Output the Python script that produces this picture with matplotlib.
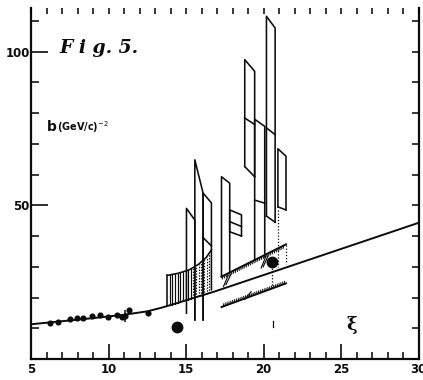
import numpy as np
import matplotlib
matplotlib.use('Agg')
import matplotlib.pyplot as plt
from matplotlib.ticker import MultipleLocator, FixedLocator

# ---------------- data ----------------
# fitted curve
curve_x = [5, 7, 9, 11, 12.5, 13.5, 14.5, 15.5, 16.75, 20, 25, 30]
curve_y = [11.3, 12.3, 13.3, 14.4, 15.5, 16.8, 18.3, 19.9, 21.8, 27.3, 35.8, 44.3]

# low-energy measurements
pts_x = [6.22, 6.76, 7.51, 7.94, 8.37, 8.91, 9.45, 9.98, 10.52, 10.84, 11.06, 11.33, 12.56]
pts_y = [11.8, 12.1, 12.9, 13.2, 13.4, 14.0, 14.3, 13.8, 14.3, 13.8, 14.0, 15.9, 15.1]
pts_err = [0.3, 0.3, 0.4, 0.4, 0.5, 0.6, 0.6, 0.6, 0.7, 0.8, 1.8, 0.8, 0.5]

# slanted boxes (parallelograms)
box_x0 = [15.03, 15.57, 16.10, 17.29, 17.82, 18.79, 19.43, 20.19, 20.93]
box_x1 = [15.57, 16.10, 16.64, 17.82, 18.58, 19.43, 20.08, 20.75, 21.45]
box_top0 = [49.0, 64.8, 54.0, 59.3, 48.5, 97.4, 78.0, 111.5, 68.4]
box_top1 = [45.2, 54.0, 50.8, 57.2, 46.9, 93.6, 75.7, 107.7, 66.0]
box_bot0 = [14.9, 12.7, 12.7, 26.8, 41.4, 62.6, 32.2, 46.5, 49.5]
box_bot1 = [12.7, 12.7, 22.5, 28.2, 40.0, 59.3, 33.3, 44.5, 48.5]
box_closed = [False, False, False, False, True, True, False, True, True]

# inner dividing lines (box index, left y, right y)
div_box = [2, 4, 5, 6, 7]
div_y0 = [39.5, 44.7, 78.4, 51.7, 75.2]
div_y1 = [36.8, 43.1, 76.3, 50.7, 73.0]

# hatched region (top boundary; bottom is the curve)
hatch_top_x = [13.8, 14.5, 15.2, 15.8, 16.3, 16.64]
hatch_top_y = [27.2, 27.9, 29.0, 30.8, 33.0, 35.5]

# band limits
band_up_x = [17.29, 21.45]
band_up_y = [26.8, 37.3]
band_lo_x = [17.29, 21.45]
band_lo_y = [16.9, 24.6]

# big dots
dot_x = [14.4, 20.57]
dot_y = [10.4, 31.7]

# dotted vertical lines (x, y from, y to)
dv_x = [20.57, 20.93, 21.45]
dv_y0 = [31.7, 48.5, 37.0]
dv_y1 = [23.0, 30.0, 31.0]

# small diagonal strokes
ds_x0 = [17.42, 17.58, 19.85, 19.98, 18.80]
ds_y0 = [23.6, 24.2, 29.6, 30.0, 19.4]
ds_x1 = [17.72, 17.90, 20.15, 20.30, 19.20]
ds_y1 = [27.2, 27.6, 33.4, 33.6, 21.9]

x_ticks = [5, 10, 15, 20, 25, 30]
x_labels = ['5', '10', '15', '20', '25', '30']
y_ticks = [50, 100]
y_labels = ['50', '100']

# ---------------- drawing ----------------
fig = plt.figure(figsize=(4.23, 3.8), dpi=100)
ax = fig.add_axes([31 / 423, 21 / 380, 387.5 / 423, 351 / 380])
ax.set_xlim(5, 30)
ax.set_ylim(0, 114.2)

ink = '#0c0c0c'
lw = 1.15

# curve
ax.plot(curve_x, curve_y, color=ink, lw=1.4, zorder=3)

# measurements
ax.errorbar(pts_x, pts_y, yerr=pts_err, fmt='o', ms=3.4, color=ink,
            elinewidth=1.1, capsize=0, zorder=4)

# boxes
for i in range(len(box_x0)):
    x0, x1 = box_x0[i], box_x1[i]
    ax.plot([x0, x0, x1, x1], [box_bot0[i], box_top0[i], box_top1[i], box_bot1[i]],
            color=ink, lw=lw, zorder=3)
    if box_closed[i]:
        ax.plot([x0, x1], [box_bot0[i], box_bot1[i]], color=ink, lw=lw, zorder=3)
for k, b in enumerate(div_box):
    ax.plot([box_x0[b], box_x1[b]], [div_y0[k], div_y1[k]], color=ink, lw=lw, zorder=3)

# hatched region
ax.plot(hatch_top_x, hatch_top_y, color=ink, lw=lw, zorder=3)
base_left = np.interp(hatch_top_x[0], curve_x, curve_y)
ax.plot([hatch_top_x[0], hatch_top_x[0]], [base_left, hatch_top_y[0]], color=ink, lw=lw)
for hx in np.arange(hatch_top_x[0] + 0.15, hatch_top_x[-1], 0.17):
    ytop = np.interp(hx, hatch_top_x, hatch_top_y)
    ybot = np.interp(hx, curve_x, curve_y)
    ls = '-' if hx < 15.4 else (0, (1.2, 1.2))
    ax.plot([hx, hx], [ybot, ytop], color=ink, lw=0.85, ls=ls, zorder=2)

# band limits with small hatch ticks
ax.plot(band_up_x, band_up_y, color=ink, lw=1.4, zorder=3)
ax.plot(band_lo_x, band_lo_y, color=ink, lw=1.4, zorder=3)
for hx in np.arange(band_up_x[0] + 0.1, band_up_x[1], 0.14):
    yu = np.interp(hx, band_up_x, band_up_y)
    ax.plot([hx - 0.05, hx], [yu - 1.0, yu], color=ink, lw=0.75, zorder=2)
for hx in np.arange(band_lo_x[0] + 0.1, band_lo_x[1], 0.14):
    yl = np.interp(hx, band_lo_x, band_lo_y)
    ax.plot([hx, hx + 0.05], [yl, yl + 0.9], color=ink, lw=0.75, zorder=2)

# dotted verticals
for k in range(len(dv_x)):
    ax.plot([dv_x[k], dv_x[k]], [dv_y0[k], dv_y1[k]], color=ink, lw=0.9,
            ls=(0, (1, 1.5)), zorder=2)

# diagonal strokes
for k in range(len(ds_x0)):
    ax.plot([ds_x0[k], ds_x1[k]], [ds_y0[k], ds_y1[k]], color=ink, lw=0.85, zorder=2)

# big dots
ax.plot(dot_x, dot_y, 'o', ms=7.5, color=ink, zorder=5)

# stray small mark
ax.plot([20.6, 20.6], [10.3, 12.3], color=ink, lw=0.9)

# ---------------- axes styling ----------------
for s in ['left', 'right', 'bottom']:
    ax.spines[s].set_linewidth(1.6)
    ax.spines[s].set_color(ink)
ax.spines['top'].set_visible(False)

ax.xaxis.set_major_locator(FixedLocator(x_ticks))
ax.set_xticklabels(x_labels)
ax.xaxis.set_minor_locator(MultipleLocator(1))
ax.yaxis.set_major_locator(FixedLocator(y_ticks))
ax.set_yticklabels(y_labels)
ax.yaxis.set_minor_locator(MultipleLocator(10))

ax.tick_params(axis='x', which='major', direction='in', length=11, width=1.2,
               pad=3, labelsize=8.5, colors=ink)
ax.tick_params(axis='x', which='minor', direction='in', length=5, width=1.1)
ax.tick_params(axis='y', which='major', direction='in', length=12, width=1.2,
               pad=1, labelsize=8.5, colors=ink)
ax.tick_params(axis='y', which='minor', direction='in', length=6, width=1.1)
for lab in ax.get_xticklabels() + ax.get_yticklabels():
    lab.set_fontweight('bold')

# top ticks
axt = ax.twiny()
axt.set_xlim(5, 30)
axt.xaxis.set_major_locator(MultipleLocator(1))
axt.tick_params(axis='x', which='major', direction='in', length=4.5, width=1.1,
                labeltop=False, top=True)
for s in axt.spines.values():
    s.set_visible(False)

# right ticks
axr = ax.twinx()
axr.set_ylim(0, 114.2)
axr.yaxis.set_major_locator(MultipleLocator(10))
axr.tick_params(axis='y', which='major', direction='in', length=5, width=1.1,
                labelright=False, right=True)
for s in axr.spines.values():
    s.set_visible(False)

# ---------------- text ----------------
fig.text(99 / 423, 1 - 48 / 380, 'F i g. 5.', family='DejaVu Serif', style='italic',
         fontweight='bold', fontsize=13.5, ha='center', va='center', color=ink)
fig.text(47 / 423, 1 - 127 / 380, 'b', family='DejaVu Sans', fontsize=10,
         fontweight='bold', ha='left', va='center', color=ink)
fig.text(57 / 423, 1 - 127 / 380, '(GeV/c)$^{-2}$', family='DejaVu Sans', fontsize=7,
         fontweight='bold', ha='left', va='center', color=ink)
fig.text(352 / 423, 1 - 325 / 380, 'ξ', family='DejaVu Serif', fontsize=13,
         fontweight='bold', ha='center', va='center', color=ink)

fig.savefig('out.png', dpi=100)
